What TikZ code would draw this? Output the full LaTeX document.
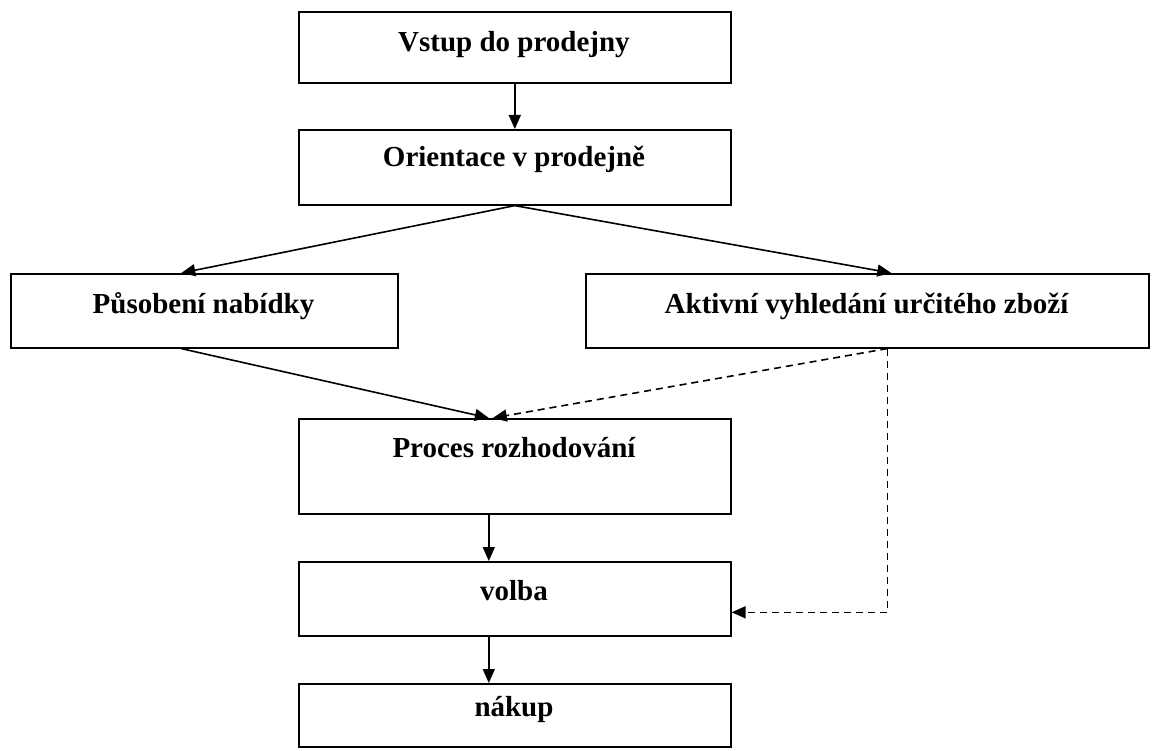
\documentclass[tikz,border=0pt]{standalone}
\usepackage{fontspec}
\setmainfont{Liberation Serif}
\usetikzlibrary{arrows.meta}
\begin{document}
\begin{tikzpicture}[x=1pt,y=-1pt,
  box/.style={draw, line width=1.6pt, rectangle, inner sep=0pt, anchor=north west},
  lbl/.style={anchor=base, inner sep=0pt, font=\fontsize{29}{32}\selectfont\bfseries},
  arr/.style={line width=1.6pt, -{Triangle[length=14pt,width=12pt]}},
  darr/.style={arr, dash pattern=on 7pt off 5pt}]
\useasboundingbox (0,0) rectangle (1158,751);
\node[box, minimum width=432pt, minimum height=71pt] (b1) at (298,11) {};
\node[box, minimum width=432pt, minimum height=75pt] (b2) at (298,129) {};
\node[box, minimum width=387pt, minimum height=74pt] (b3) at (10,273) {};
\node[box, minimum width=563pt, minimum height=74pt] (b4) at (585,273) {};
\node[box, minimum width=432pt, minimum height=95pt] (b5) at (298,418) {};
\node[box, minimum width=432pt, minimum height=74pt] (b6) at (298,561) {};
\node[box, minimum width=432pt, minimum height=63pt] (b7) at (298,683) {};

\node[lbl] (t1) at (514,52) {Vstup do prodejny};
\node[lbl] (t2) at (514,167) {Orientace v prodejně};
\node[lbl] (t3) at (203.5,313) {Působení nabídky};
\node[lbl] (t4) at (866.5,313) {Aktivní vyhledání určitého zboží};
\node[lbl] (t5) at (514,457) {Proces rozhodování};
\node[lbl] (t6) at (514,600) {volba};
\node[lbl] (t7) at (514,716) {nákup};

\draw[arr] (b1.south) -- (b2.north);
\draw[arr] (b2.south) -- ([xshift=-23pt]b3.north);
\draw[arr] (b2.south) -- ([xshift=24pt]b4.north);
\draw[arr] ([xshift=-23pt]b3.south) -- ([xshift=-26pt]b5.north);
\coordinate (d1) at ([xshift=20pt]b4.south);
\draw[darr] (d1) -- ([xshift=-22pt]b5.north);
\draw[darr] (d1) |- ([yshift=-13.5pt]b6.east);
\draw[arr] ([xshift=-26pt]b5.south) -- ([xshift=-26pt]b6.north);
\draw[arr] ([xshift=-26pt]b6.south) -- ([xshift=-26pt]b7.north);
\end{tikzpicture}
\end{document}
